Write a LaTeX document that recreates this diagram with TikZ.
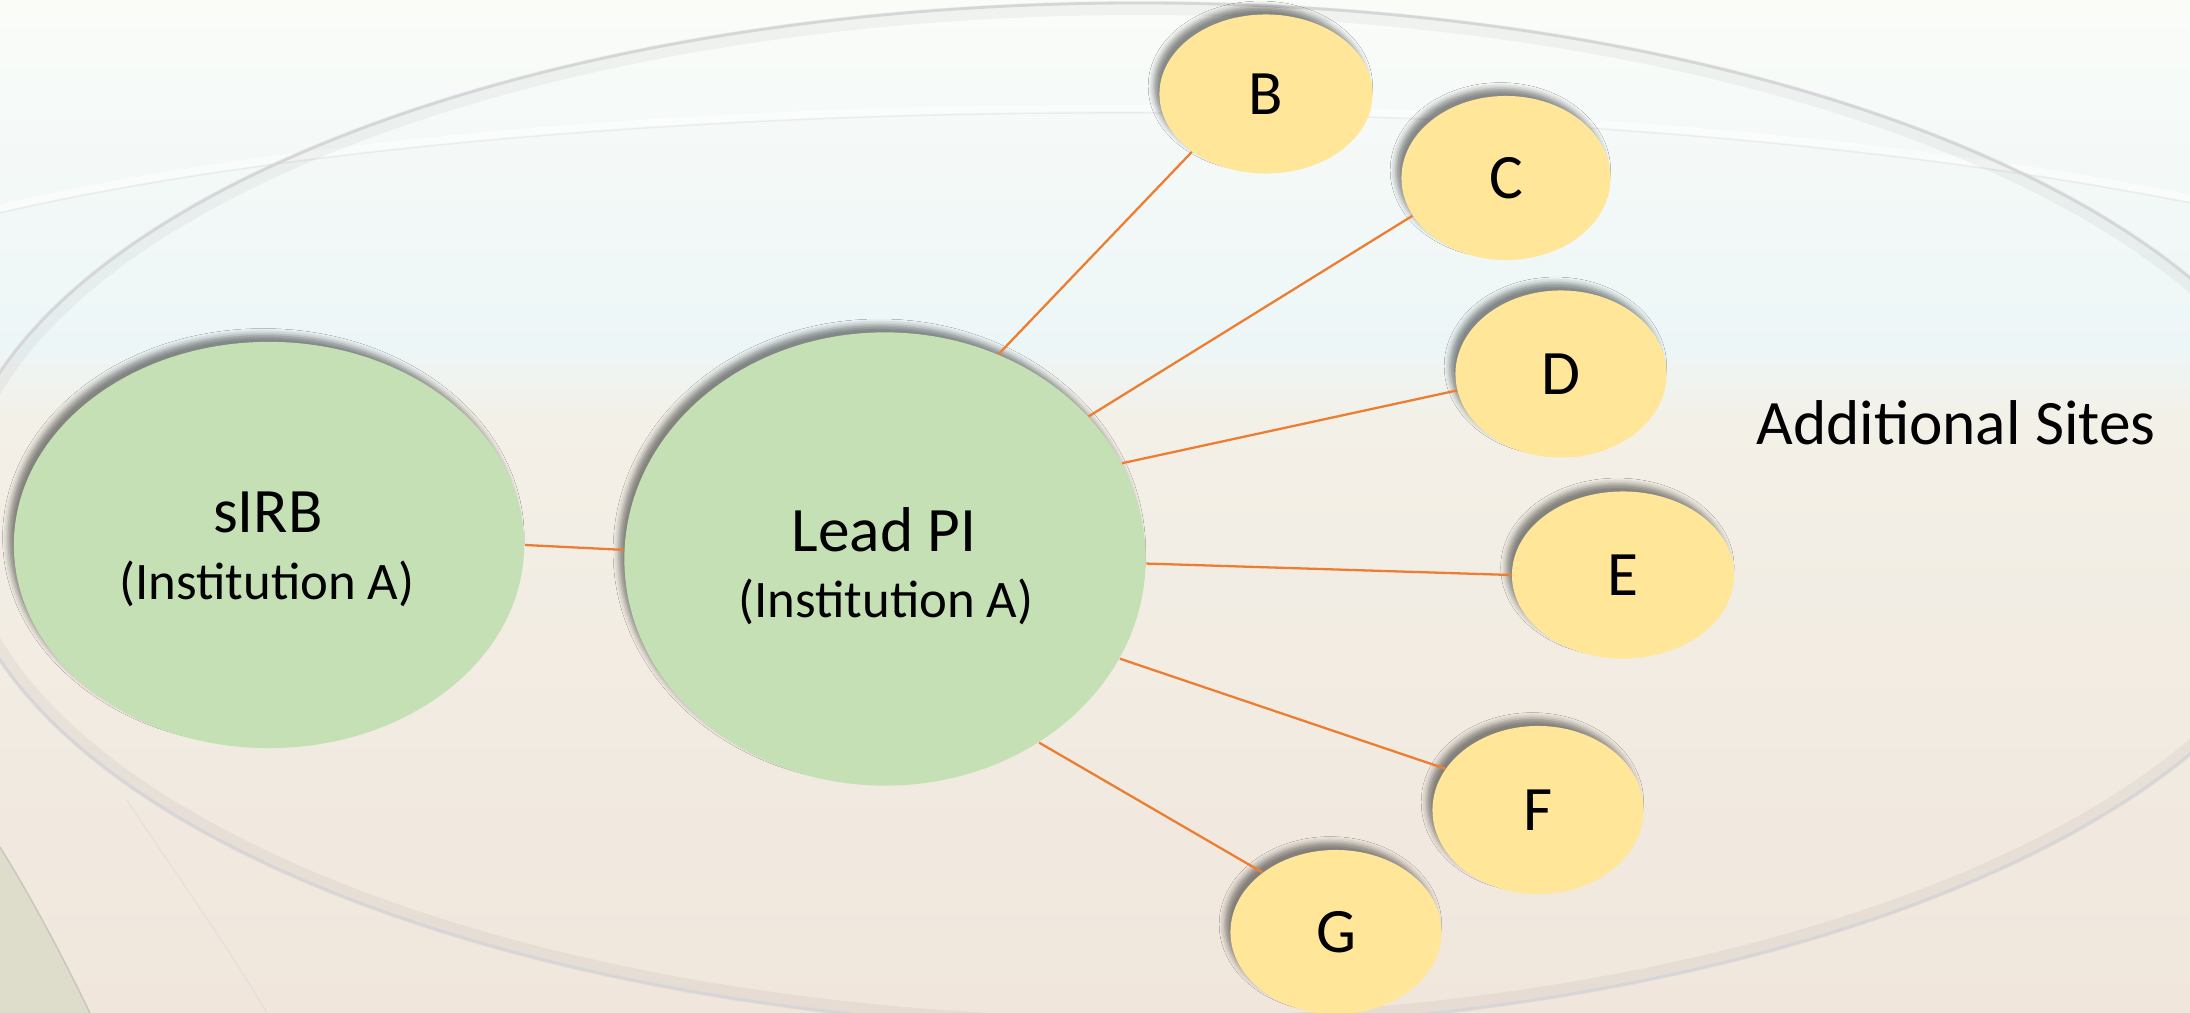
\documentclass[tikz,border=0pt]{standalone}
\usepackage{fontspec}
\setmainfont{Carlito}
\usetikzlibrary{shapes.geometric,shadows.blur}
\definecolor{grn}{HTML}{C5E0B4}
\definecolor{ylw}{HTML}{FFE699}
\definecolor{org}{HTML}{ED7D31}
\definecolor{bgA}{HTML}{FAFCF8}
\definecolor{bgB}{HTML}{EDF6F7}
\definecolor{bgC}{HTML}{F3F0E7}
\definecolor{bgD}{HTML}{F0E6DC}
\definecolor{ellgray}{HTML}{D6D6D8}
\definecolor{cornerc}{HTML}{DEDCCA}
\begin{document}
\begin{tikzpicture}[x=0.01cm,y=-0.01cm,
  bubble/.style={ellipse, inner sep=0pt,
    blur shadow={shadow xshift=-1.6pt, shadow yshift=2.2pt, shadow blur radius=1.6pt, shadow opacity=45}},
  pinode/.style={bubble, fill=grn},
  sitenode/.style={bubble, fill=ylw, font=\fontsize{18}{20}\selectfont},
  link/.style={draw=org, line width=0.65pt},
  bigtxt/.style={font=\fontsize{18}{22}\selectfont, inner sep=0pt},
  smalltxt/.style={font=\fontsize{15}{18}\selectfont, inner sep=0pt}]
\useasboundingbox (0,0) rectangle (2190,1013);
% background
\shade[top color=bgA, bottom color=bgB] (0,0) rectangle (2190,345);
\shade[top color=bgB, bottom color=bgC] (0,345) rectangle (2190,420);
\shade[top color=bgC, bottom color=bgD] (0,420) rectangle (2190,1013);
% faint swoosh across the top
\draw[white, line width=2pt, opacity=0.6] (0,208) .. controls (500,92) and (1500,62) .. (2190,198);
\draw[ellgray, line width=0.4pt, opacity=0.35] (0,213) .. controls (500,97) and (1500,67) .. (2190,203);
% darker bottom-left corner
\fill[cornerc] (0,847) .. controls (30,895) and (62,955) .. (90,1013) -- (0,1013) -- cycle;
\draw[ellgray!80!black, line width=0.4pt, opacity=0.5] (0,847) .. controls (30,895) and (62,955) .. (90,1013);
\draw[ellgray, line width=0.3pt, opacity=0.5] (127,800) .. controls (180,880) and (230,950) .. (267,1013);
% big surrounding ellipse
\draw[black, opacity=0.04, line width=4pt] (1139,516) ellipse [x radius=1181, y radius=508];
\draw[ellgray, line width=0.8pt] (1139,516) ellipse [x radius=1186, y radius=513];
% nodes
\node[pinode, minimum width=5.10cm, minimum height=4.06cm] (sirb) at (269,545) {};
\node[pinode, minimum width=5.21cm, minimum height=4.53cm] (lead) at (885,559) {};
\node[sitenode, minimum width=2.13cm, minimum height=1.59cm] (b) at (1266,94) {B};
\node[sitenode, minimum width=2.09cm, minimum height=1.64cm] (c) at (1506,178) {C};
\node[sitenode, minimum width=2.11cm, minimum height=1.67cm] (d) at (1561,374) {D};
\node[sitenode, minimum width=2.22cm, minimum height=1.67cm] (e) at (1623,575) {E};
\node[sitenode, minimum width=2.11cm, minimum height=1.68cm] (f) at (1538,810) {F};
\node[sitenode, minimum width=2.11cm, minimum height=1.64cm] (g) at (1336,932) {G};
% texts
\node[bigtxt, anchor=base] (sirbname) at (268,533) {sIRB};
\node[smalltxt, anchor=base] (sirbinst) at (267,600) {(Institution A)};
\node[bigtxt, anchor=base] (leadname) at (884,552) {Lead PI};
\node[smalltxt, anchor=base] (leadinst) at (886,618) {(Institution A)};
\node[bigtxt, anchor=base] (sites) at (1956,445) {Additional Sites};
% connectors
\draw[link] (sirb.0) -- (lead.178.5);
\draw[link] (lead.61) -- (b.218);
\draw[link] (lead.35) -- (c.202);
\draw[link] (lead.22) -- (d.189);
\draw[link] (lead.-1) -- (e.180);
\draw[link] (lead.-23) -- (f.156);
\draw[link] (lead.-50) -- (g.141);
\end{tikzpicture}
\end{document}
